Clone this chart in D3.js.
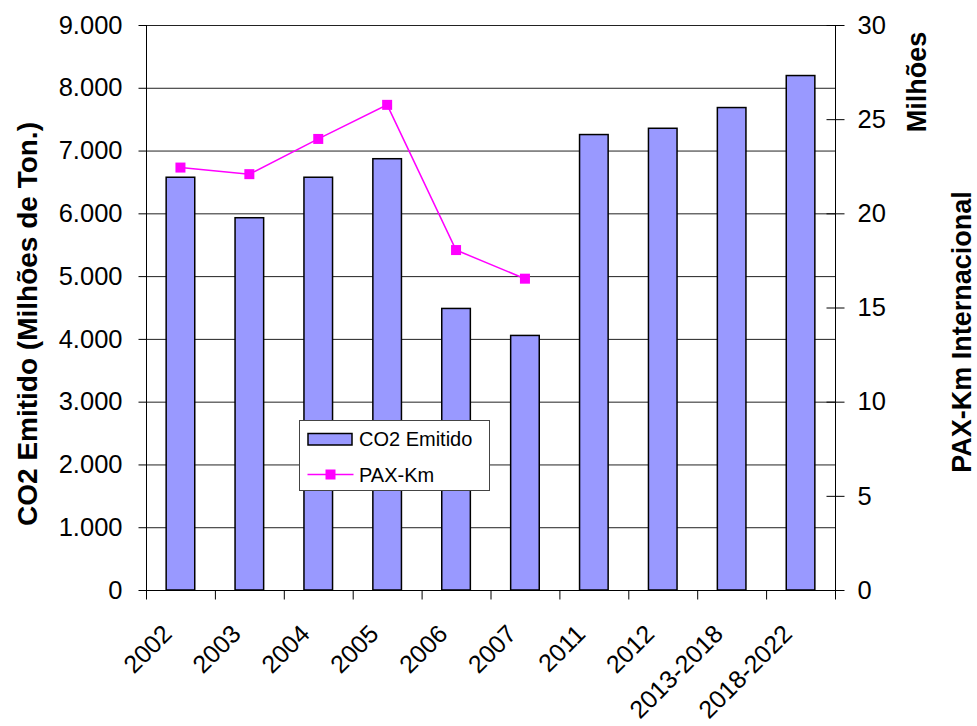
<!DOCTYPE html>
<html>
<head>
<meta charset="utf-8">
<script src="https://cdn.jsdelivr.net/npm/d3@7"></script>
<style>
  html, body { margin: 0; padding: 0; background: #fff; }
  svg { display: block; }
  text { font-family: "Liberation Sans", Arial, sans-serif; fill: #000; }
</style>
</head>
<body>
<svg id="chart" width="977" height="726"></svg>
<script>
// ---- Data ----
const categories = ["2002", "2003", "2004", "2005", "2006", "2007", "2011", "2012", "2013-2018", "2018-2022"];
const co2Emitido = [6575, 5930, 6575, 6870, 4485, 4055, 7255, 7355, 7685, 8195];
const paxKm = [22.43, 22.08, 23.95, 25.76, 18.05, 16.53, null, null, null, null];
const leftTicks = [0, 1000, 2000, 3000, 4000, 5000, 6000, 7000, 8000, 9000];
const rightTicks = [0, 5, 10, 15, 20, 25, 30];
const seriesNames = ["CO2 Emitido", "PAX-Km"];
const leftTitle = "CO2 Emitido (Milhões de Ton.)";
const rightTitle1 = "Milhões";
const rightTitle2 = "PAX-Km Internacional";

// ---- Layout ----
const plot = { left: 146, right: 835, top: 25, bottom: 590 };
const svg = d3.select("#chart");

const x = d3.scaleBand().domain(categories).range([plot.left, plot.right]).paddingInner(0).paddingOuter(0);
const yL = d3.scaleLinear().domain([0, 9000]).range([plot.bottom, plot.top]);
const yR = d3.scaleLinear().domain([0, 30]).range([plot.bottom, plot.top]);
const fmt = v => d3.format(",")(v).replace(/,/g, ".");

// gridlines
svg.append("g").selectAll("line").data(leftTicks.filter(d => d > 0)).join("line")
  .attr("x1", plot.left).attr("x2", plot.right)
  .attr("y1", d => yL(d) + 0.5).attr("y2", d => yL(d) + 0.5)
  .attr("stroke", "#222").attr("stroke-width", 1);

// bars
const barW = x.bandwidth() * 0.415;
svg.append("g").selectAll("rect").data(categories).join("rect")
  .attr("x", (d) => x(d) + (x.bandwidth() - barW) / 2)
  .attr("y", (d, i) => yL(co2Emitido[i]))
  .attr("width", barW)
  .attr("height", (d, i) => yL(0) - yL(co2Emitido[i]))
  .attr("fill", "#9999FF").attr("stroke", "#000").attr("stroke-width", 1.5);

// left axis
const axL = svg.append("g").attr("transform", `translate(${plot.left + 0.5},0)`)
  .call(d3.axisLeft(yL).tickValues(leftTicks).tickFormat(fmt).tickSize(8).tickPadding(16));
axL.select(".domain").attr("stroke", "#000").attr("d", `M0,${plot.top}V${plot.bottom}`);
axL.selectAll("line").attr("stroke", "#000");
axL.selectAll("text").attr("font-size", 25.5).attr("font-family", "Liberation Sans, Arial, sans-serif");

// right axis (ticks cross)
const axR = svg.append("g").attr("transform", `translate(${plot.right + 0.5},0)`)
  .call(d3.axisRight(yR).tickValues(rightTicks).tickSize(9).tickPadding(13));
axR.select(".domain").attr("stroke", "#000").attr("d", `M0,${plot.top}V${plot.bottom}`);
axR.selectAll(".tick line").attr("x1", -9).attr("stroke", "#000");
axR.selectAll("text").attr("font-size", 25.5).attr("font-family", "Liberation Sans, Arial, sans-serif");

// bottom axis
const axB = svg.append("g").attr("transform", `translate(0,${plot.bottom + 0.5})`);
axB.append("line").attr("x1", plot.left).attr("x2", plot.right + 1).attr("stroke", "#000");
const boundaries = categories.map(c => x(c)).concat([plot.right]);
axB.selectAll("line.tk").data(boundaries).join("line").attr("class", "tk")
  .attr("x1", d => d + 0.5).attr("x2", d => d + 0.5).attr("y1", 0).attr("y2", 9)
  .attr("stroke", "#000");
axB.selectAll("text").data(categories).join("text")
  .attr("transform", d => `translate(${x(d) + x.bandwidth() / 2 - 7},${45}) rotate(-45)`)
  .attr("text-anchor", "end")
  .attr("font-size", 25)
  .text(d => d);

// line series
const pts = categories.map((c, i) => ({ c, v: paxKm[i] })).filter(p => p.v != null);
const line = d3.line().x(p => x(p.c) + x.bandwidth() / 2).y(p => yR(p.v));
svg.append("path").datum(pts).attr("d", line)
  .attr("fill", "none").attr("stroke", "#FF00FF").attr("stroke-width", 1.5);
svg.append("g").selectAll("rect").data(pts).join("rect")
  .attr("x", p => x(p.c) + x.bandwidth() / 2 - 5)
  .attr("y", p => yR(p.v) - 5)
  .attr("width", 10).attr("height", 10)
  .attr("fill", "#FF00FF");

// axis titles
svg.append("text").attr("transform", "translate(37,324) rotate(-90)")
  .attr("text-anchor", "middle").attr("font-size", 28).attr("font-weight", "bold").text(leftTitle);
svg.append("text").attr("transform", "translate(926,82) rotate(-90)")
  .attr("text-anchor", "middle").attr("font-size", 27).attr("font-weight", "bold").text(rightTitle1);
svg.append("text").attr("transform", "translate(971,332) rotate(-90)")
  .attr("text-anchor", "middle").attr("font-size", 27).attr("font-weight", "bold").text(rightTitle2);

// legend
const lg = svg.append("g").attr("transform", "translate(299.5,420.5)");
lg.append("rect").attr("width", 190).attr("height", 70).attr("fill", "#fff").attr("stroke", "#444").attr("stroke-width", 1);
lg.append("rect").attr("x", 8.5).attr("y", 13).attr("width", 44).attr("height", 11.5)
  .attr("fill", "#9999FF").attr("stroke", "#000").attr("stroke-width", 1.5);
lg.append("text").attr("x", 59.5).attr("y", 25).attr("font-size", 20).text(seriesNames[0]);
lg.append("line").attr("x1", 8).attr("x2", 54).attr("y1", 54).attr("y2", 54)
  .attr("stroke", "#FF00FF").attr("stroke-width", 1.5);
lg.append("rect").attr("x", 26).attr("y", 49).attr("width", 10).attr("height", 10).attr("fill", "#FF00FF");
lg.append("text").attr("x", 59.5).attr("y", 61).attr("font-size", 20).text(seriesNames[1]);
</script>
</body>
</html>
